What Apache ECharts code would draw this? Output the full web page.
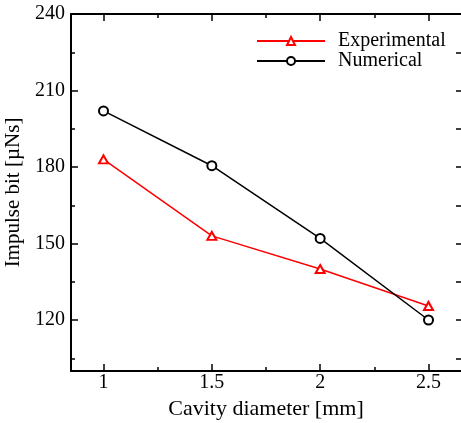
<!DOCTYPE html>
<html>
<head>
<meta charset="utf-8">
<script src="https://cdn.jsdelivr.net/npm/echarts@6/dist/echarts.min.js"></script>
<style>html,body{margin:0;padding:0;background:#fff;}#c{width:461px;height:423px;}</style>
</head>
<body>
<div id="c"></div>
<script>
const diameters = [1, 1.5, 2, 2.5];
const experimental = [183, 153, 140, 125.5];
const numerical = [202, 180.5, 152, 120];
const xMajor = [1, 1.5, 2, 2.5];
const xMinor = [1.25, 1.75, 2.25];
const yMajor = [120, 150, 180, 210, 240];
const yMinor = [105, 135, 165, 195, 225];

const FONT = 'Liberation Serif';
const chart = echarts.init(document.getElementById('c'));

function xAx(pos, ticks, len, labels, line) {
  return {
    type: 'value', position: pos, min: 0.85, max: 2.65,
    axisLine: {show: line, lineStyle: {color: '#000', width: 2}},
    axisTick: {show: true, inside: true, length: len, customValues: ticks, lineStyle: {color: '#000', width: 1.5}},
    axisLabel: labels ? {show: true, customValues: ticks, margin: 2, color: '#000', fontFamily: FONT, fontSize: 20, formatter: v => String(v)} : {show: false},
    splitLine: {show: false}
  };
}
function yAx(pos, ticks, len, labels, line) {
  return {
    type: 'value', position: pos, min: 100, max: 240,
    axisLine: {show: line, lineStyle: {color: '#000', width: 2}},
    axisTick: {show: true, inside: true, length: len, customValues: ticks, lineStyle: {color: '#000', width: 1.5}},
    axisLabel: labels ? {show: true, customValues: ticks, margin: 6, color: '#000', fontFamily: FONT, fontSize: 20} : {show: false},
    splitLine: {show: false}
  };
}

const xa0 = xAx('bottom', xMajor, 7, true, true);
xa0.name = 'Cavity diameter [mm]';
xa0.nameLocation = 'middle';
xa0.nameGap = 20;
xa0.nameTextStyle = {color: '#000', fontFamily: FONT, fontSize: 22};
const ya0 = yAx('left', yMajor, 7, true, true);
ya0.name = 'Impulse bit [\u00b5Ns]';
ya0.nameLocation = 'middle';
ya0.nameGap = 37;
ya0.nameTextStyle = {color: '#000', fontFamily: FONT, fontSize: 21};

chart.setOption({
  animation: false,
  backgroundColor: '#fff',
  grid: {left: 71, top: 14, right: 0, bottom: 52, containLabel: false, outerBoundsMode: 'none'},
  legend: {
    orient: 'vertical', left: 251, top: 26, itemWidth: 68, itemHeight: 10, itemGap: 0,
    textStyle: {color: '#000', fontFamily: FONT, fontSize: 20, padding: [0, 0, 0, 8]},
    data: ['Experimental', 'Numerical']
  },
  xAxis: [xa0, xAx('bottom', xMinor, 4, false, false), xAx('top', xMajor, 7, false, true), xAx('top', xMinor, 4, false, false)],
  yAxis: [ya0, yAx('left', yMinor, 4, false, false), yAx('right', yMajor, 5, false, false), yAx('right', yMinor, 5, false, false)],
  series: [
    {
      name: 'Experimental', type: 'line', xAxisIndex: 0, yAxisIndex: 0,
      data: diameters.map((d, i) => [d, experimental[i]]),
      symbol: 'emptyTriangle', symbolSize: [9, 8],
      lineStyle: {color: '#ff0000', width: 1.5},
      itemStyle: {color: '#ff0000', borderWidth: 1.5}
    },
    {
      name: 'Numerical', type: 'line', xAxisIndex: 0, yAxisIndex: 0,
      data: diameters.map((d, i) => [d, numerical[i]]),
      symbol: 'emptyCircle', symbolSize: 9,
      lineStyle: {color: '#000', width: 1.5},
      itemStyle: {color: '#000', borderWidth: 1.5}
    }
  ]
});
</script>
</body>
</html>
